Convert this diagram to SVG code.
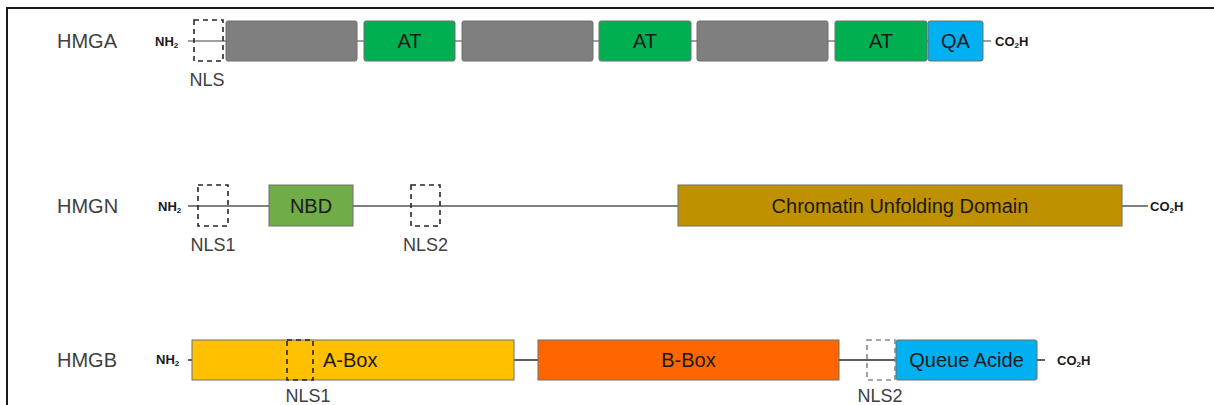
<svg xmlns="http://www.w3.org/2000/svg" width="1214" height="405" viewBox="0 0 1214 405">
<style>
.lbl{font-family:"Liberation Sans",Arial,sans-serif;font-size:18px;fill:#404040}
.name{font-family:"Liberation Sans",Arial,sans-serif;font-size:20px;fill:#404040}
.in{font-family:"Liberation Sans",Arial,sans-serif;font-size:20px;fill:#1a1a1a}
.term{font-family:"Liberation Sans",Arial,sans-serif;font-size:13px;font-weight:bold;fill:#1a1a1a}
.sub{font-size:8px}
.box{stroke:#6f6f6f;stroke-width:1}
.nls{fill:none;stroke:#262626;stroke-width:1.6;stroke-dasharray:5 4}
.nlsg{fill:none;stroke:#8a8a8a;stroke-width:1.6;stroke-dasharray:5 4}
</style>
<rect width="1214" height="405" fill="#ffffff"/>
<path d="M7,405 V8 H1214" fill="none" stroke="#1a1a1a" stroke-width="2"/>

<g id="connectors">
<line x1="188" y1="41" x2="991" y2="41" stroke="#7f7f7f" stroke-width="1.6"/>
<line x1="188" y1="206" x2="1148" y2="206" stroke="#7f7f7f" stroke-width="2"/>
<line x1="188" y1="360" x2="192" y2="360" stroke="#262626" stroke-width="1.5"/>
<line x1="514" y1="360" x2="538" y2="360" stroke="#262626" stroke-width="1.5"/>
<line x1="839" y1="360" x2="896" y2="360" stroke="#262626" stroke-width="1.5"/>
<line x1="1037" y1="360" x2="1045" y2="360" stroke="#262626" stroke-width="1.5"/>
</g>

<g id="hmga">
<text class="name" x="57" y="48">HMGA</text>
<text class="term" x="155" y="46">NH<tspan class="sub" dy="2">2</tspan></text>
<rect class="box" x="226" y="21" width="131" height="40" rx="2" fill="#7f7f7f"/>
<rect class="box" x="364" y="21" width="91" height="40" rx="2" fill="#00b050"/>
<text class="in" x="409.5" y="48" text-anchor="middle">AT</text>
<rect class="box" x="462" y="21" width="131" height="40" rx="2" fill="#7f7f7f"/>
<rect class="box" x="599" y="21" width="92" height="40" rx="2" fill="#00b050"/>
<text class="in" x="645" y="48" text-anchor="middle">AT</text>
<rect class="box" x="697" y="21" width="131" height="40" rx="2" fill="#7f7f7f"/>
<rect class="box" x="835" y="21" width="92" height="40" rx="2" fill="#00b050"/>
<text class="in" x="881" y="48" text-anchor="middle">AT</text>
<rect class="box" x="928" y="21" width="55" height="40" rx="2" fill="#00b0f0"/>
<text class="in" x="955.5" y="48" text-anchor="middle">QA</text>
<text class="term" x="995" y="46">CO<tspan class="sub" dy="2">2</tspan><tspan dy="-2">H</tspan></text>
<rect class="nls" x="194" y="20" width="29" height="41"/>
<text class="lbl" x="207" y="86" text-anchor="middle">NLS</text>
</g>

<g id="hmgn">
<text class="name" x="57" y="213">HMGN</text>
<text class="term" x="158" y="211">NH<tspan class="sub" dy="2">2</tspan></text>
<rect class="nls" x="198" y="185" width="30" height="41"/>
<text class="lbl" x="213" y="251" text-anchor="middle">NLS1</text>
<rect class="box" x="269" y="185" width="84" height="41" fill="#70ad47"/>
<text class="in" x="311" y="213" text-anchor="middle">NBD</text>
<rect class="nls" x="411" y="185" width="29" height="41"/>
<text class="lbl" x="425.5" y="251" text-anchor="middle">NLS2</text>
<rect class="box" x="678" y="185" width="444" height="41" fill="#bf9000"/>
<text class="in" x="900" y="213" text-anchor="middle">Chromatin Unfolding Domain</text>
<text class="term" x="1150" y="211">CO<tspan class="sub" dy="2">2</tspan><tspan dy="-2">H</tspan></text>
</g>

<g id="hmgb">
<text class="name" x="57" y="367">HMGB</text>
<text class="term" x="156" y="364">NH<tspan class="sub" dy="2">2</tspan></text>
<rect class="box" x="192" y="340" width="322" height="40" fill="#ffc000"/>
<rect class="nls" x="287" y="340" width="26" height="40"/>
<text class="in" x="323" y="367" text-anchor="start">A-Box</text>
<text class="lbl" x="308" y="402" text-anchor="middle">NLS1</text>
<rect class="box" x="538" y="340" width="301" height="40" fill="#ff6600"/>
<text class="in" x="688.5" y="367" text-anchor="middle">B-Box</text>
<rect class="nlsg" x="867" y="340" width="28" height="40"/>
<rect class="box" x="896" y="340" width="141" height="40" rx="2" fill="#00b0f0"/>
<text class="in" x="966.5" y="367" text-anchor="middle">Queue Acide</text>
<text class="lbl" x="880" y="402" text-anchor="middle">NLS2</text>
<text class="term" x="1057" y="365">CO<tspan class="sub" dy="2">2</tspan><tspan dy="-2">H</tspan></text>
</g>
</svg>
